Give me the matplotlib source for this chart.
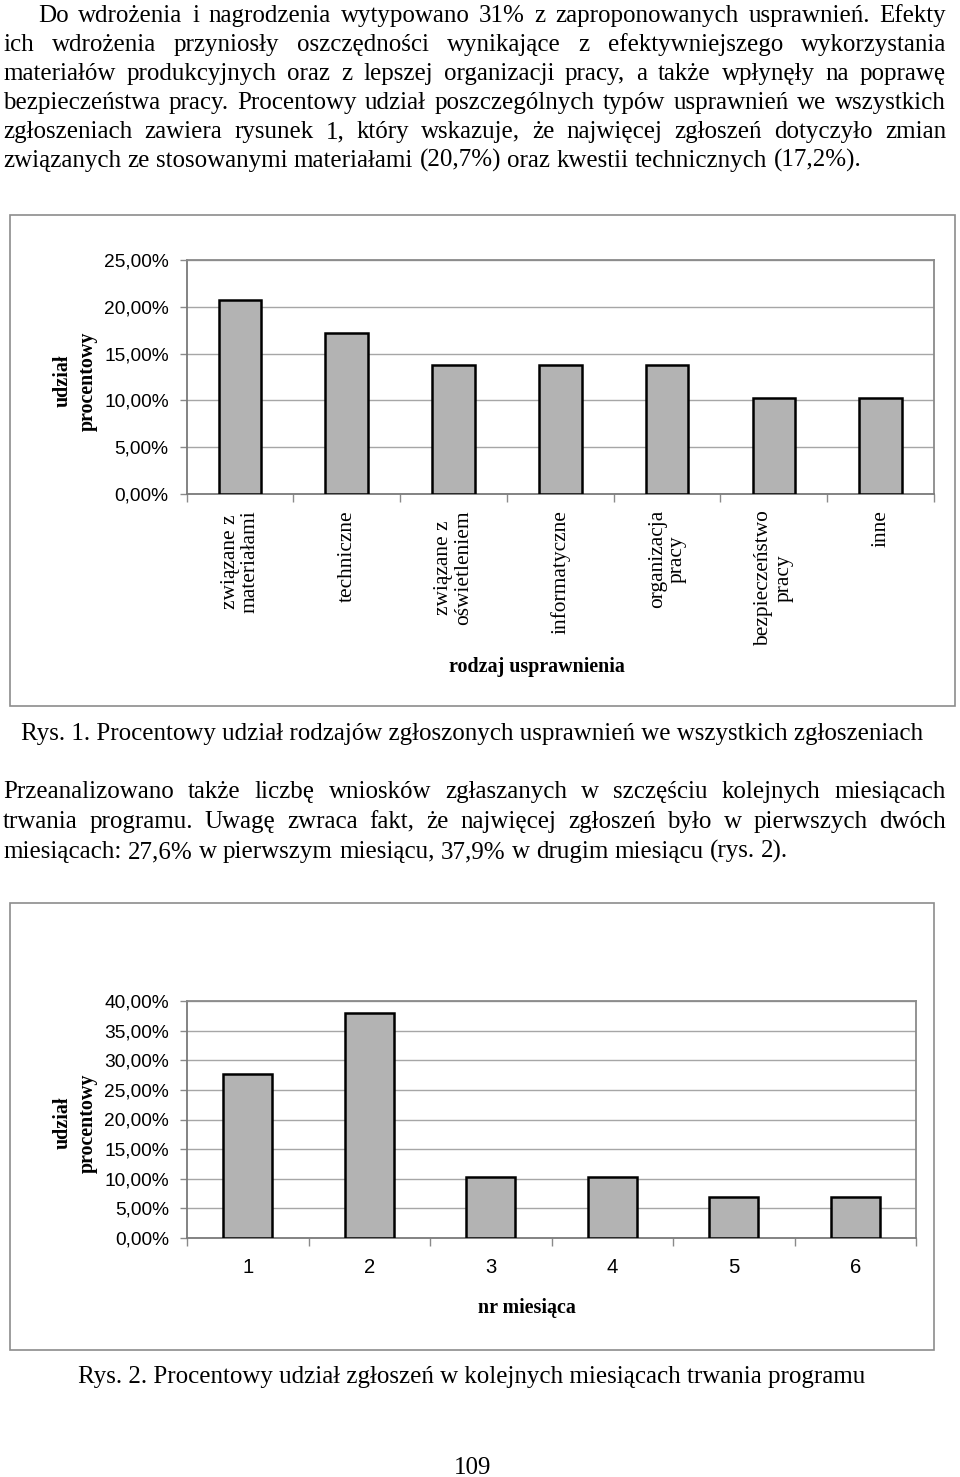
import matplotlib
matplotlib.use("Agg")
import matplotlib.pyplot as plt
from matplotlib.patches import Rectangle
from matplotlib.ticker import FuncFormatter, FixedLocator

# ---------------- data ----------------
categories1 = ["związane z\nmateriałami", "techniczne", "związane z\noświetleniem",
               "informatyczne", "organizacja\npracy", "bezpieczeństwo\npracy", "inne"]
values1 = [20.7, 17.2, 13.8, 13.8, 13.8, 10.3, 10.3]
yticks1 = [0, 5, 10, 15, 20, 25]

months = ["1", "2", "3", "4", "5", "6"]
values2 = [27.6, 37.9, 10.3, 10.3, 6.9, 6.9]
yticks2 = [0, 5, 10, 15, 20, 25, 30, 35, 40]

para1 = [
    "Do wdrożenia i nagrodzenia wytypowano 31% z zaproponowanych usprawnień. Efekty",
    "ich wdrożenia przyniosły oszczędności wynikające z efektywniejszego wykorzystania",
    "materiałów produkcyjnych oraz z lepszej organizacji pracy, a także wpłynęły na poprawę",
    "bezpieczeństwa pracy. Procentowy udział poszczególnych typów usprawnień we wszystkich",
    "zgłoszeniach zawiera rysunek 1, który wskazuje, że najwięcej zgłoszeń dotyczyło zmian",
    "związanych ze stosowanymi materiałami (20,7%) oraz kwestii technicznych (17,2%).",
]
para2 = [
    "Przeanalizowano także liczbę wniosków zgłaszanych w szczęściu kolejnych miesiącach",
    "trwania programu. Uwagę zwraca fakt, że najwięcej zgłoszeń było w pierwszych dwóch",
    "miesiącach: 27,6% w pierwszym miesiącu, 37,9% w drugim miesiącu (rys. 2).",
]
caption1 = "Rys. 1. Procentowy udział rodzajów zgłoszonych usprawnień we wszystkich zgłoszeniach"
caption2 = "Rys. 2. Procentowy udział zgłoszeń w kolejnych miesiącach trwania programu"
page_no = "109"
ylabel = "udział\nprocentowy"
xlabel1 = "rodzaj usprawnienia"
xlabel2 = "nr miesiąca"

# ---------------- layout ----------------
W, H = 960, 1477
fig = plt.figure(figsize=(W / 100, H / 100), dpi=100)
fig.patch.set_facecolor("white")

SERIF = ["Liberation Serif", "DejaVu Serif"]
SANS = ["Liberation Sans", "DejaVu Sans"]
BODY_PT = 18.0


def fx(x):
    return x / W


def fy(y):
    return 1 - y / H


def ax_rect(l, t, r, b):
    return [fx(l), fy(b), (r - l) / W, (b - t) / H]


renderer = fig.canvas.get_renderer()


def justified(lines, baselines, x0, x1, indent):
    space = BODY_PT * 100 / 72 * 0.25
    for i, (line, yb) in enumerate(zip(lines, baselines)):
        words = line.split(" ")
        ts = [fig.text(0, fy(yb), w, fontsize=BODY_PT, family=SERIF,
                       ha="left", va="baseline") for w in words]
        widths = [t.get_window_extent(renderer).width for t in ts]
        start = x0 + (indent if i == 0 else 0)
        last = i == len(lines) - 1
        if last or len(words) < 2:
            gap = space
        else:
            gap = max((x1 - start - sum(widths)) / (len(words) - 1), space * 0.5)
        x = start
        for t, w in zip(ts, widths):
            t.set_x(fx(x))
            x += w + gap


justified(para1, [22 + 29 * k for k in range(len(para1))], 3, 946, 35)
justified(para2, [798, 828, 858], 3, 946, 0)

fig.text(fx(472), fy(740), caption1, fontsize=BODY_PT, family=SERIF, ha="center", va="baseline")
fig.text(fx(472), fy(1383), caption2, fontsize=BODY_PT, family=SERIF, ha="center", va="baseline")
fig.text(fx(473), fy(1474), page_no, fontsize=BODY_PT, family=SERIF, ha="center", va="baseline")

# chart frames
for (l, t, r, b) in [(10, 215, 955, 706), (10, 903, 934, 1350)]:
    fig.patches.append(Rectangle((fx(l), fy(b)), (r - l) / W, (b - t) / H,
                                 transform=fig.transFigure, fill=False,
                                 edgecolor="#8c8c8c", linewidth=1.2))

BAR_FC = "#b3b3b3"
GRID_C = "#a6a6a6"
SPINE_C = "#8a8a8a"
pct = FuncFormatter(lambda v, p: f"{v:.2f}".replace(".", ",") + "%")


def style_axes(ax, n, yt, xlabels, xfont, xsize, xpad):
    ax.set_xlim(-0.5, n - 0.5)
    ax.set_ylim(yt[0], yt[-1])
    ax.set_yticks(yt)
    ax.yaxis.set_major_formatter(pct)
    ax.yaxis.grid(True, color=GRID_C, linewidth=1.0)
    ax.set_axisbelow(True)
    for s in ax.spines.values():
        s.set_color(SPINE_C)
        s.set_linewidth(1.3)
    ax.spines["left"].set_color("#7a7a7a")
    ax.spines["bottom"].set_color("#7a7a7a")
    ax.set_xticks(range(n))
    ax.set_xticklabels(xlabels, fontsize=xsize, family=xfont)
    ax.xaxis.set_minor_locator(FixedLocator([i - 0.5 for i in range(n + 1)]))
    ax.tick_params(axis="x", which="major", length=0, pad=xpad)
    ax.tick_params(axis="x", which="minor", length=6, color=SPINE_C, width=1.0, direction="out")
    ax.tick_params(axis="y", length=5, color=SPINE_C, width=1.0, direction="out", pad=8.0,
                   labelsize=13.8)
    for lab in ax.get_yticklabels():
        lab.set_family(SANS)


# chart 1
ax1 = fig.add_axes(ax_rect(186.7, 260, 934, 494))
ax1.bar(range(len(values1)), values1, width=0.4, color=BAR_FC, edgecolor="black",
        linewidth=1.8, zorder=3)
style_axes(ax1, len(values1), yticks1, categories1, SERIF, 15.4, 11.5)
for lab in ax1.get_xticklabels():
    lab.set_rotation(90)
    lab.set_va("top")
    lab.set_ha("center")
    lab.set_multialignment("center")
    lab.set_linespacing(1.05)
fig.text(fx(75), fy(381), ylabel, rotation=90, fontsize=14.4, family=SERIF,
         fontweight="bold", ha="center", va="center", multialignment="center", linespacing=1.3)
fig.text(fx(537), fy(667), xlabel1, fontsize=14.4, family=SERIF, fontweight="bold",
         ha="center", va="center")

# chart 2
ax2 = fig.add_axes(ax_rect(187, 1001, 916, 1238))
ax2.bar(range(len(values2)), values2, width=0.4, color=BAR_FC, edgecolor="black",
        linewidth=1.8, zorder=3)
style_axes(ax2, len(values2), yticks2, months, SANS, 14.6, 14.4)
fig.text(fx(75), fy(1123), ylabel, rotation=90, fontsize=14.4, family=SERIF,
         fontweight="bold", ha="center", va="center", multialignment="center", linespacing=1.3)
fig.text(fx(527), fy(1308), xlabel2, fontsize=14.4, family=SERIF, fontweight="bold",
         ha="center", va="center")

fig.savefig("out.png", dpi=100, facecolor="white")
